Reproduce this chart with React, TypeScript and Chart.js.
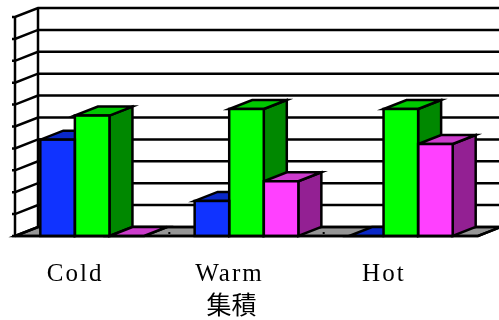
import React, { useEffect, useRef } from "react";
import { Chart, registerables } from "chart.js";

Chart.register(...registerables);

const categories = ["Cold", "Warm", "Hot"];
const seriesBlue = [4.4, 1.6, 0];
const seriesGreen = [5.5, 5.8, 5.8];
const seriesMagenta = [0, 2.5, 4.2];
const yTicks = [0, 1, 2, 3, 4, 5, 6, 7, 8, 9, 10];
const axisTitle = "集積";

const DX = 23;
const DY = 9;
const LINE = 2.5;

const faceColors = [
  { front: "#1033FF", top: "#0A28C8", side: "#0820A0" },
  { front: "#00FF00", top: "#00C800", side: "#008800" },
  { front: "#FF40FF", top: "#CC3CCC", side: "#932093" },
];

function collectBars(chart: any) {
  const bars: any[] = [];
  chart.data.datasets.forEach((_: any, di: number) => {
    const meta = chart.getDatasetMeta(di);
    meta.data.forEach((el: any) => {
      const w = el.width;
      bars.push({
        L: el.x - w / 2,
        R: el.x + w / 2,
        T: el.y,
        B: el.base,
        c: faceColors[di],
      });
    });
  });
  bars.sort((a, b) => a.L - b.L);
  return bars;
}

const threeD = {
  id: "threeD",
  beforeDatasetsDraw(chart: any) {
    const { ctx, chartArea: a, scales } = chart;
    const x = scales.x;
    const y = scales.y;
    const base = y.getPixelForValue(0);
    const top = y.getPixelForValue(yTicks[yTicks.length - 1]);
    ctx.save();
    ctx.lineWidth = LINE;
    ctx.strokeStyle = "#000";
    ctx.lineJoin = "miter";
    // floor
    ctx.beginPath();
    ctx.moveTo(a.left, base);
    ctx.lineTo(a.right, base);
    ctx.lineTo(a.right + DX, base - DY);
    ctx.lineTo(a.left + DX, base - DY);
    ctx.closePath();
    ctx.fillStyle = "#969696";
    ctx.fill();
    ctx.stroke();
    // gridlines on left wall and back wall
    yTicks.forEach((v) => {
      const py = y.getPixelForValue(v);
      ctx.beginPath();
      ctx.moveTo(a.left - 3, py);
      ctx.lineTo(a.left, py);
      ctx.lineTo(a.left + DX, py - DY);
      ctx.lineTo(a.right + DX + 6, py - DY);
      ctx.stroke();
    });
    ctx.beginPath();
    ctx.moveTo(a.left, top);
    ctx.lineTo(a.left, base);
    ctx.moveTo(a.left + DX, top - DY);
    ctx.lineTo(a.left + DX, base - DY);
    ctx.stroke();
    // category tick marks on the floor
    ctx.fillStyle = "#000";
    for (let i = 0; i < categories.length - 1; i++) {
      const bx = (x.getPixelForValue(i) + x.getPixelForValue(i + 1)) / 2;
      ctx.fillRect(bx - 1, base - 4, 2, 2);
    }
    // side and top faces
    const bars = collectBars(chart);
    bars.forEach((b) => {
      ctx.beginPath();
      ctx.moveTo(b.R, b.T);
      ctx.lineTo(b.R + DX, b.T - DY);
      ctx.lineTo(b.R + DX, b.B - DY);
      ctx.lineTo(b.R, b.B);
      ctx.closePath();
      ctx.fillStyle = b.c.side;
      ctx.fill();
      ctx.stroke();
      ctx.beginPath();
      ctx.moveTo(b.L, b.T);
      ctx.lineTo(b.R, b.T);
      ctx.lineTo(b.R + DX, b.T - DY);
      ctx.lineTo(b.L + DX, b.T - DY);
      ctx.closePath();
      ctx.fillStyle = b.c.top;
      ctx.fill();
      ctx.stroke();
    });
    ctx.restore();
  },
  afterDatasetsDraw(chart: any) {
    const { ctx, chartArea: a, scales } = chart;
    const x = scales.x;
    const y = scales.y;
    const base = y.getPixelForValue(0);
    ctx.save();
    ctx.lineWidth = LINE;
    ctx.strokeStyle = "#000";
    const bars = collectBars(chart);
    bars.forEach((b) => {
      if (b.B - b.T > 0.5) {
        ctx.strokeRect(b.L, b.T, b.R - b.L, b.B - b.T);
      }
    });
    ctx.beginPath();
    ctx.moveTo(a.left, base);
    ctx.lineTo(a.right, base);
    ctx.lineTo(a.right + DX, base - DY);
    ctx.stroke();
    // category labels
    ctx.fillStyle = "#000";
    ctx.textAlign = "center";
    ctx.textBaseline = "alphabetic";
    ctx.font = "25px 'Liberation Serif'";
    (ctx as any).letterSpacing = "2px";
    categories.forEach((c, i) => {
      const cx = x.getPixelForValue(i) - 17;
      ctx.fillText(c, cx, base + 45);
    });
    (ctx as any).letterSpacing = "0px";
    ctx.font = "25px 'Noto Sans CJK JP'";
    ctx.textBaseline = "middle";
    ctx.fillText(axisTitle, (a.left + a.right) / 2 - 15, base + 68);
    ctx.restore();
  },
};

export default function App() {
  const ref = useRef<HTMLCanvasElement | null>(null);
  useEffect(() => {
    document.body.style.margin = "0";
    const canvas = ref.current;
    if (!canvas) return;
    const chart = new Chart(canvas, {
      type: "bar",
      data: {
        labels: categories,
        datasets: [
          { data: seriesBlue, backgroundColor: faceColors[0].front, borderWidth: 0 },
          { data: seriesGreen, backgroundColor: faceColors[1].front, borderWidth: 0 },
          { data: seriesMagenta, backgroundColor: faceColors[2].front, borderWidth: 0 },
        ],
      },
      options: {
        responsive: false,
        animation: false,
        events: [],
        devicePixelRatio: 1,
        layout: { padding: { left: 15, right: 21, top: 17, bottom: 84 } },
        datasets: { bar: { categoryPercentage: 0.672, barPercentage: 1 } },
        scales: {
          x: { display: false },
          y: { display: false, min: 0, max: 10 },
        },
        plugins: {
          legend: { display: false },
          tooltip: { enabled: false },
          title: { display: false },
        },
      },
      plugins: [threeD],
    });
    return () => chart.destroy();
  }, []);
  return (
    <div style={{ width: 499, height: 320, background: "#fff" }}>
      <canvas ref={ref} width={499} height={320} style={{ display: "block" }} />
    </div>
  );
}
